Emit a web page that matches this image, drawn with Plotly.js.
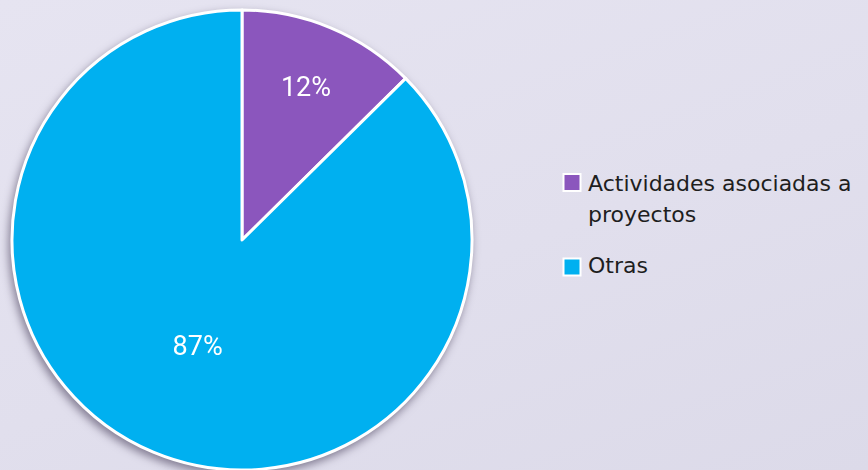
<!DOCTYPE html>
<html>
<head>
<meta charset="utf-8">
<script src="https://cdn.plot.ly/plotly-3.0.1.min.js"></script>
<style>
  html, body { margin:0; padding:0; }
  body { width:868px; height:470px; overflow:hidden;
         background: linear-gradient(160deg, #e6e4f1 0%, #e1dfed 55%, #dcdae9 100%); }
  #chart { width:868px; height:470px; }
  #chart .pielayer { filter: drop-shadow(-2px 4px 4px rgba(40,30,60,0.5)); }
</style>
</head>
<body>
<div id="chart"></div>
<script>
// Data
const categories = ["Actividades asociadas a proyectos", "Otras"];
const values = [12.6, 87.4];
const pctLabels = ["12%", "87%"];     // labels as printed in the chart
const legendLines = [["Actividades asociadas a", "proyectos"], ["Otras"]];
const colors = ["#8b56bd", "#00b0f0"];

const W = 868, H = 470;
const px = x => x / W;
const py = y => 1 - y / H;

const cx = 242, cy = 240, r = 230;

const trace = {
  type: "pie",
  labels: categories,
  values: values,
  text: pctLabels,
  textinfo: "text",
  textposition: "inside",
  insidetextorientation: "horizontal",
  sort: false,
  direction: "clockwise",
  rotation: 0,
  hoverinfo: "label+text",
  marker: { colors: colors, line: { color: "#ffffff", width: 3 } },
  insidetextfont: { family: "Roboto, sans-serif", size: 27, color: "#ffffff" },
  domain: { x: [px(cx - r), px(cx + r)], y: [py(cy + r), py(cy - r)] },
  showlegend: false
};

// Custom legend
const shapes = [];
const annotations = [];
const swatchCenters = [182.5, 267];
const lineCenters = [[183, 215], [265]];
categories.forEach((c, i) => {
  const sc = swatchCenters[i], s = 8.5;
  shapes.push({
    type: "rect", xref: "paper", yref: "paper",
    x0: px(572 - s), x1: px(572 + s), y0: py(sc + s), y1: py(sc - s),
    fillcolor: colors[i], line: { color: "#ffffff", width: 2 }
  });
  legendLines[i].forEach((ln, j) => {
    annotations.push({
      xref: "paper", yref: "paper", x: px(586), y: py(lineCenters[i][j]),
      xanchor: "left", yanchor: "middle", showarrow: false, text: ln,
      font: { family: "DejaVu Sans, sans-serif", size: 22, color: "#1e1e1e" }
    });
  });
});

const layout = {
  width: W, height: H,
  margin: { l: 0, r: 0, t: 0, b: 0 },
  paper_bgcolor: "rgba(0,0,0,0)",
  plot_bgcolor: "rgba(0,0,0,0)",
  showlegend: false,
  shapes: shapes,
  annotations: annotations
};

Plotly.newPlot("chart", [trace], layout, { displayModeBar: false, staticPlot: true });
</script>
</body>
</html>
